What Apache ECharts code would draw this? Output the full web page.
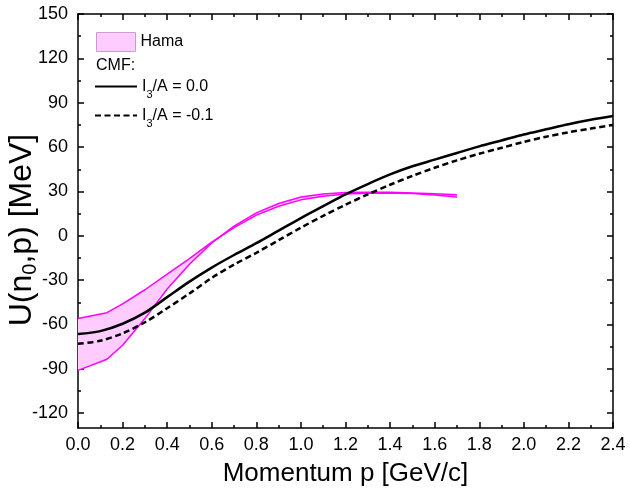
<!DOCTYPE html>
<html>
<head>
<meta charset="utf-8">
<script src="https://cdn.jsdelivr.net/npm/echarts@6/dist/echarts.min.js"></script>
<style>
  html, body { margin: 0; padding: 0; background: #fff; }
  #main { width: 630px; height: 492px; }
</style>
</head>
<body>
<div id="main"></div>
<script>
// momentum grid of the CMF curves [GeV/c]
const momentum = [0, 0.1, 0.2, 0.3, 0.4, 0.5, 0.6, 0.7, 0.8, 0.9, 1.0, 1.1, 1.2,
  1.3, 1.4, 1.5, 1.6, 1.7, 1.8, 1.9, 2.0, 2.1, 2.2, 2.3, 2.4];
// CMF, I3/A = 0.0
const cmfSym = [-66.5, -64.5, -59.5, -52, -41.5, -31, -21.5, -13, -5, 3.5, 12, 20, 28,
  35, 41.5, 47, 51.5, 56, 60.5, 64.5, 68.5, 72, 75.5, 78.5, 81];
// CMF, I3/A = -0.1
const cmfNeg = [-73, -71, -66, -58.5, -49, -39, -28.5, -19.5, -11.5, -3, 5.5, 13.5, 21,
  28, 34.5, 40.5, 46, 51, 55.5, 59.5, 63.5, 67, 70, 72.5, 75];

// Hama band edges
const hamaP = [0, 0.13, 0.2, 0.3, 0.4, 0.5, 0.6, 0.7, 0.8, 0.9, 1.0, 1.1, 1.2, 1.3, 1.4, 1.5, 1.6, 1.7];
const hamaA = [-56, -52, -46, -36.5, -26, -15.5, -4.3, 5.5, 14, 20, 24.3, 26.8, 28.2, 28.8, 28.9, 28.6, 27.6, 26.2];
const hamaB = [-91, -83.5, -74, -56, -36, -19.2, -4.8, 6.5, 15.5, 21.8, 26.2, 28.3, 29.2, 29.5, 29.5, 29.0, 28.5, 27.7];

const yMajor = [-120, -90, -60, -30, 0, 30, 60, 90, 120, 150];
const yMinor = [-105, -75, -45, -15, 15, 45, 75, 105, 135];

const FONT = '"Liberation Sans", Arial, sans-serif';
const PINK = '#ffccff';
const MAGENTA = '#ff00ff';

const pairs = (xs, ys) => xs.map((x, i) => [x, ys[i]]);

const lineNames = { sym: 'I3/A = 0.0', neg: 'I3/A = -0.1' };
const legendLabel = {
  [lineNames.sym]: '{a|I}{s|3}{a|/A = 0.0}',
  [lineNames.neg]: '{a|I}{s|3}{a|/A = -0.1}'
};

const tickLine = { color: '#000', width: 1.5 };
const frame = { show: true, onZero: false, lineStyle: { color: '#000', width: 1.5 } };

function xAx(pos, labels) {
  return {
    type: 'value', position: pos, min: 0, max: 2.4, interval: 0.2,
    axisLine: frame,
    axisTick: { inside: true, length: 6, lineStyle: tickLine },
    minorTick: { show: true, splitNumber: 2, length: 3, lineStyle: tickLine },
    splitLine: { show: false },
    axisLabel: {
      show: labels, margin: 8, fontSize: 18, color: '#000', fontFamily: FONT,
      formatter: (v) => v.toFixed(1)
    }
  };
}

function yAx(pos, ticks, len, labels, line) {
  return {
    type: 'value', position: pos, min: -130, max: 150,
    axisLine: line ? frame : { show: false, onZero: false },
    axisTick: { inside: true, length: len, customValues: ticks, lineStyle: tickLine },
    splitLine: { show: false },
    axisLabel: {
      show: labels, customValues: ticks, margin: 10, fontSize: 18, color: '#000', fontFamily: FONT
    }
  };
}

function lineLegend(name, top) {
  return {
    left: 94, top: top, padding: 0, selectedMode: false,
    itemWidth: 42, itemHeight: 12, itemStyle: { opacity: 0 },
    data: [name],
    formatter: (n) => legendLabel[n],
    textStyle: {
      fontSize: 16, color: '#000', fontFamily: FONT,
      rich: {
        a: { fontSize: 16, fontFamily: FONT, color: '#000' },
        s: { fontSize: 11, fontFamily: FONT, color: '#000', padding: [16, 0, 0, 0] }
      }
    }
  };
}

const xBottom = xAx('bottom', true);
xBottom.name = 'Momentum p [GeV/c]';
xBottom.nameLocation = 'middle';
xBottom.nameMoveOverlap = false;
xBottom.nameGap = 33;
xBottom.nameTextStyle = { fontSize: 26, color: '#000', fontFamily: FONT };

const yLeft = yAx('left', yMajor, 6, true, true);
yLeft.name = '{a|U(n}{s|0}{a|,p) [MeV]}';
yLeft.nameLocation = 'middle';
yLeft.nameMoveOverlap = false;
yLeft.nameGap = 38;
yLeft.nameTextStyle = {
  color: '#000', fontFamily: FONT, fontSize: 32, padding: [0, 18, 0, 0],
  rich: {
    a: { fontSize: 32, fontFamily: FONT, color: '#000' },
    s: { fontSize: 20, fontFamily: FONT, color: '#000', padding: [15, 0, 0, 0] }
  }
};

// Hama band: closed outline, edge A forward then edge B back
function renderBand(params, api) {
  if (params.dataIndex !== 0) return null;
  const pts = [];
  hamaP.forEach((p, i) => pts.push(api.coord([p, hamaA[i]])));
  for (let i = hamaP.length - 1; i >= 0; i--) pts.push(api.coord([hamaP[i], hamaB[i]]));
  return { type: 'polygon', shape: { points: pts }, style: { fill: PINK } };
}

const chart = echarts.init(document.getElementById('main'), null, { renderer: 'canvas' });

chart.setOption({
  animation: false,
  backgroundColor: '#fff',
  grid: { left: 78, right: 17, top: 14, bottom: 64, containLabel: false, outerBoundsMode: 'none' },
  xAxis: [xBottom, xAx('top', false)],
  yAxis: [
    yLeft,
    yAx('right', yMajor, 6, false, true),
    yAx('left', yMinor, 3, false, false),
    yAx('right', yMinor, 3, false, false)
  ],
  legend: [
    {
      left: 96, top: 32, padding: 0, selectedMode: false,
      itemWidth: 39, itemHeight: 19,
      data: [{ name: 'Hama', icon: 'rect', itemStyle: { color: PINK, borderColor: '#d09ad0', borderWidth: 1 } }],
      textStyle: { fontSize: 16, color: '#000', fontFamily: FONT }
    },
    lineLegend(lineNames.sym, 78.5),
    lineLegend(lineNames.neg, 107.5)
  ],
  graphic: [
    { type: 'text', left: 96, top: 58, style: { text: 'CMF:', fontSize: 16, fontFamily: FONT, fill: '#000' } }
  ],
  series: [
    {
      name: 'Hama', type: 'custom', renderItem: renderBand, silent: true,
      data: pairs(hamaP, hamaA), itemStyle: { color: PINK }, z: 1
    },
    {
      name: 'hamaA', type: 'line', data: pairs(hamaP, hamaA), symbol: 'none', silent: true,
      lineStyle: { color: MAGENTA, width: 1.5 }, z: 2
    },
    {
      name: 'hamaB', type: 'line', data: pairs(hamaP, hamaB), symbol: 'none', silent: true,
      lineStyle: { color: MAGENTA, width: 1.5 }, z: 2
    },
    {
      name: lineNames.sym, type: 'line', data: pairs(momentum, cmfSym), symbol: 'none',
      smooth: 0.3, silent: true, color: '#000',
      lineStyle: { color: '#000', width: 2.5 }, z: 3
    },
    {
      name: lineNames.neg, type: 'line', data: pairs(momentum, cmfNeg), symbol: 'none',
      smooth: 0.3, silent: true, color: '#000',
      lineStyle: { color: '#000', width: 2.5, type: [6, 3.5] }, z: 3
    }
  ]
});
</script>
</body>
</html>
